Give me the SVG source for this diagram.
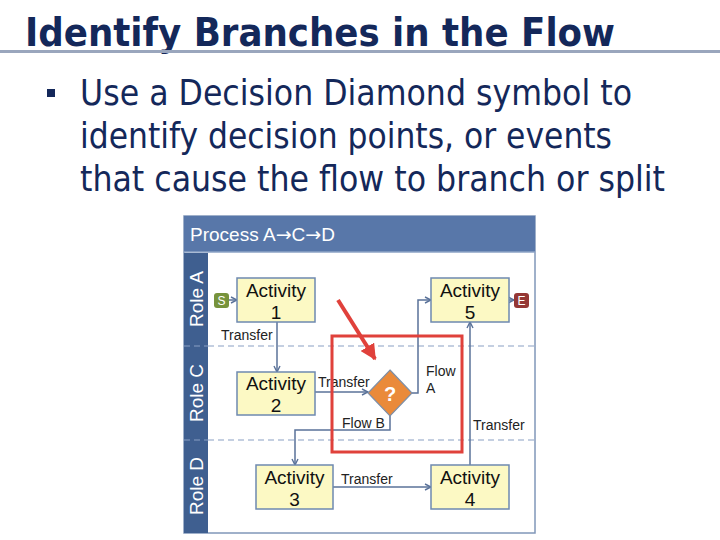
<svg xmlns="http://www.w3.org/2000/svg" width="720" height="540" viewBox="0 0 720 540">
<defs>
<style>
.title{font-family:"DejaVu Sans Condensed","DejaVu Sans","Liberation Sans",sans-serif;font-weight:bold;fill:#14285a}
.bul{font-family:"DejaVu Sans Condensed","DejaVu Sans","Liberation Sans",sans-serif;fill:#14285a;font-size:35px}
.act rect{fill:#fcf9c4;stroke:#6e89b0;stroke-width:1.5}
.act text{font-family:"Liberation Sans",Arial,sans-serif;font-size:19px;fill:#111;text-anchor:middle}
.lbl{font-family:"Liberation Sans",Arial,sans-serif;font-size:14px;fill:#222}
.role{font-family:"Liberation Sans",Arial,sans-serif;font-size:19px;fill:#fff;text-anchor:middle}
.conn{fill:none;stroke:#5a7299;stroke-width:1.5}
.lane{stroke:#8aa0c4;stroke-width:1.2;stroke-dasharray:6 4}
</style>
<marker id="ah" viewBox="0 0 8 8" refX="7" refY="4" markerWidth="8" markerHeight="8" markerUnits="userSpaceOnUse" orient="auto">
<path d="M1,1 L7,4 L1,7" fill="none" stroke="#5a7299" stroke-width="1.4"/>
</marker>
<marker id="redah" viewBox="0 0 10 10" refX="9" refY="5" markerWidth="4" markerHeight="4" orient="auto">
<path d="M0,0 L10,5 L0,10 Z" fill="#e0413b"/>
</marker>
</defs>
<rect width="720" height="540" fill="#fff"/>

<g id="title">
<text class="title" x="25" y="46" font-size="39" textLength="590" lengthAdjust="spacingAndGlyphs">Identify Branches in the Flow</text>
<rect x="0" y="50" width="720" height="3" fill="#9aa6bd"/>
</g>

<g id="bullet">
<rect x="47" y="89" width="8" height="8" fill="#14285a"/>
<text class="bul" x="80" y="105" textLength="552" lengthAdjust="spacingAndGlyphs">Use a Decision Diamond symbol to</text>
<text class="bul" x="80" y="148" textLength="532" lengthAdjust="spacingAndGlyphs">identify decision points, or events</text>
<text class="bul" x="80" y="191" textLength="585" lengthAdjust="spacingAndGlyphs">that cause the flow to branch or split</text>
</g>

<g id="frame">
<rect x="184" y="216" width="351" height="317" fill="#fff" stroke="#8097b9" stroke-width="1.5"/>
<rect x="184" y="216" width="351" height="36" fill="#5877a9"/>
<line x1="184" y1="252" x2="535" y2="252" stroke="#8da3c6" stroke-width="1.5"/>
<text x="190" y="241" font-family="'Liberation Sans',Arial,sans-serif" font-size="19" fill="#fff" textLength="145" lengthAdjust="spacingAndGlyphs">Process A<tspan font-family="'DejaVu Sans',sans-serif">→</tspan>C<tspan font-family="'DejaVu Sans',sans-serif">→</tspan>D</text>
<rect x="184" y="253" width="24" height="280" fill="#3f5f90"/>
<line class="lane" x1="208" y1="346" x2="535" y2="346"/>
<line class="lane" x1="208" y1="440" x2="535" y2="440"/>
<line x1="184" y1="346" x2="208" y2="346" stroke="#8aa0c4" stroke-width="1.2" stroke-dasharray="6 4"/>
<line x1="184" y1="440" x2="208" y2="440" stroke="#8aa0c4" stroke-width="1.2" stroke-dasharray="6 4"/>
<text class="role" transform="translate(203,299) rotate(-90)">Role A</text>
<text class="role" transform="translate(203,393) rotate(-90)">Role C</text>
<text class="role" transform="translate(203,486) rotate(-90)">Role D</text>
</g>

<g id="connectors">
<path class="conn" d="M229,300 L237,300" marker-end="url(#ah)"/>
<path class="conn" d="M509,300 L514,300" marker-end="url(#ah)"/>
<path class="conn" d="M277,322 L277,372" marker-end="url(#ah)"/>
<path class="conn" d="M315,392 L368,392" marker-end="url(#ah)"/>
<path class="conn" d="M411,393 L418,393 L418,300 L431,300" marker-end="url(#ah)"/>
<path class="conn" d="M390,416 L390,430 L295,430 L295,465" marker-end="url(#ah)"/>
<path class="conn" d="M333,487 L431,487" marker-end="url(#ah)"/>
<path class="conn" d="M470,465 L470,322" marker-end="url(#ah)"/>
<text class="lbl" x="221" y="340">Transfer</text>
<text class="lbl" x="318" y="387">Transfer</text>
<text class="lbl" x="426" y="376">Flow</text>
<text class="lbl" x="426" y="393">A</text>
<text class="lbl" x="342" y="428">Flow B</text>
<text class="lbl" x="341" y="484">Transfer</text>
<text class="lbl" x="473" y="430">Transfer</text>
</g>

<g id="start">
<rect x="214" y="293" width="15" height="15" rx="3" fill="#77933c"/>
<text x="221.5" y="305" font-family="'Liberation Sans',Arial,sans-serif" font-size="12" fill="#fff" text-anchor="middle">S</text>
</g>
<g id="end">
<rect x="514" y="293" width="15" height="15" rx="3" fill="#953735"/>
<text x="521.5" y="305" font-family="'Liberation Sans',Arial,sans-serif" font-size="12" fill="#fff" text-anchor="middle">E</text>
</g>

<g id="activity1" class="act"><rect x="237" y="278" width="78" height="44"/><text x="276" y="297">Activity</text><text x="276" y="319">1</text></g>
<g id="activity5" class="act"><rect x="431" y="278" width="78" height="44"/><text x="470" y="297">Activity</text><text x="470" y="319">5</text></g>
<g id="activity2" class="act"><rect x="237" y="372" width="78" height="43"/><text x="276" y="390">Activity</text><text x="276" y="412">2</text></g>
<g id="activity3" class="act"><rect x="256" y="465" width="77" height="44"/><text x="294.5" y="484">Activity</text><text x="294.5" y="506">3</text></g>
<g id="activity4" class="act"><rect x="431" y="465" width="78" height="44"/><text x="470" y="484">Activity</text><text x="470" y="506">4</text></g>

<g id="decision">
<path d="M390,370 L412,393 L390,416 L368,393 Z" fill="#ea8a3a" stroke="#7d8fa8" stroke-width="1.2"/>
<text x="390" y="401" font-family="'Liberation Sans',Arial,sans-serif" font-size="20" font-weight="bold" fill="#fff" text-anchor="middle">?</text>
</g>

<g id="highlight">
<rect x="332" y="336" width="130" height="116" fill="none" stroke="#e0413b" stroke-width="3"/>
<line x1="338" y1="300" x2="375" y2="359" stroke="#e0413b" stroke-width="4" marker-end="url(#redah)"/>
</g>
</svg>
